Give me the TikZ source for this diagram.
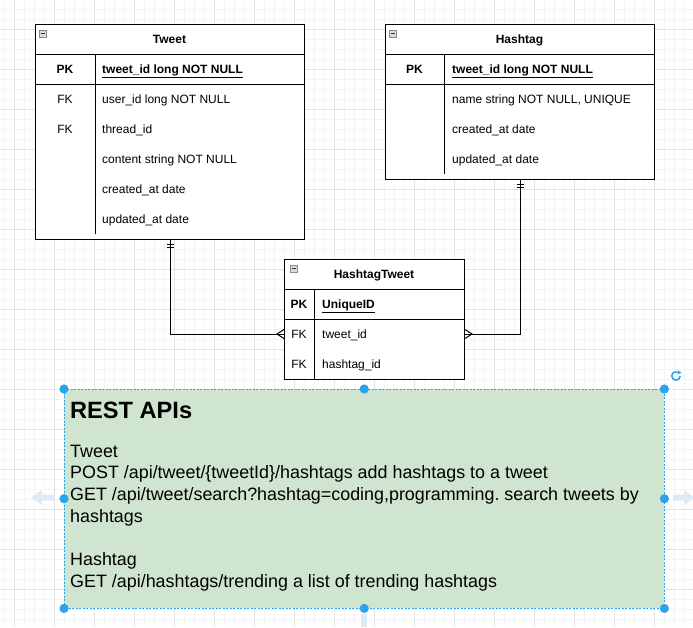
\documentclass[tikz,border=0pt]{standalone}
\usepackage{fontspec}
\setmainfont{Liberation Sans}
\usetikzlibrary{arrows.meta}
\frenchspacing
\definecolor{gridmin}{HTML}{F4F4F4}
\definecolor{gridmaj}{HTML}{E2E2E2}
\definecolor{notefill}{HTML}{D0E5CF}
\definecolor{selblue}{HTML}{29A3EE}
\definecolor{hoverblue}{HTML}{DCEBF8}
\definecolor{icongray}{HTML}{DADADA}
\definecolor{iconedge}{HTML}{8A8A8A}
\begin{document}
\begin{tikzpicture}[x=1pt,y=-1pt,
  tbl/.style={draw=black,fill=white,line width=1pt,anchor=north west,inner sep=0pt},
  ttl/.style={anchor=base,inner sep=0pt,font=\fontsize{12}{14}\selectfont\bfseries},
  keytxt/.style={anchor=base,inner sep=0pt,font=\fontsize{12}{14}\selectfont},
  pktxt/.style={anchor=base,inner sep=0pt,font=\fontsize{12}{14}\selectfont\bfseries},
  rowtxt/.style={anchor=base west,inner sep=0pt,font=\fontsize{12}{14}\selectfont},
  pkrow/.style={anchor=base west,inner sep=0pt,font=\fontsize{12}{14}\selectfont\bfseries},
  sep/.style={draw=black,line width=1pt},
  conn/.style={draw=black,line width=1pt},
  minusicon/.style={draw=iconedge,fill=icongray,line width=0.6pt,minimum width=7.5pt,minimum height=7pt,inner sep=0pt},
  apitxt/.style={anchor=base west,inner sep=0pt,font=\fontsize{17.9}{21}\selectfont\frenchspacing},
  handle/.style={fill=selblue},
]
\useasboundingbox (0,0) rectangle (693,627);
\fill[white] (0,0) rectangle (693,627);
% grid
\foreach \gx in {4,14,...,694} \draw[gridmin,line width=1pt] (\gx,0) -- (\gx,627);
\foreach \gy in {9,19,...,629} \draw[gridmin,line width=1pt] (0,\gy) -- (693,\gy);
\foreach \gx in {14,54,...,694} \draw[gridmaj,line width=0.9pt] (\gx,0) -- (\gx,627);
\foreach \gy in {29,69,...,629} \draw[gridmaj,line width=0.9pt] (0,\gy) -- (693,\gy);

% ---------- Tweet table ----------
\node[tbl,minimum width=269pt,minimum height=215pt] (tweet) at (35,24) {};
\draw[sep] (35,54) -- (304,54);
\draw[sep] (35,84) -- (304,84);
\draw[sep] (95,54) -- (95,234);
\node[minusicon] (twmin) at (43,33.5) {};
\draw[black!80,line width=0.8pt] ([xshift=-2.3pt]twmin.center) -- ([xshift=2.3pt]twmin.center);
\node[ttl] (twttl) at (169.5,43.3) {Tweet};
\node[pktxt] (twk0) at (65,73.3) {PK};
\node[pkrow] (twr0) at (102,73.3) {\underline{tweet\_id long NOT NULL}};
\node[keytxt] (twk1) at (65,103.3) {FK};
\node[rowtxt] (twr1) at (102,103.3) {user\_id long NOT NULL};
\node[keytxt] (twk2) at (65,133.3) {FK};
\node[rowtxt] (twr2) at (102,133.3) {thread\_id};
\node[rowtxt] (twr3) at (102,163.3) {content string NOT NULL};
\node[rowtxt] (twr4) at (102,193.3) {created\_at date};
\node[rowtxt] (twr5) at (102,223.3) {updated\_at date};

% ---------- Hashtag table ----------
\node[tbl,minimum width=269pt,minimum height=155pt] (hashtag) at (385,24) {};
\draw[sep] (385,54) -- (654,54);
\draw[sep] (385,84) -- (654,84);
\draw[sep] (444,54) -- (444,174);
\node[minusicon] (hsmin) at (393,33.5) {};
\draw[black!80,line width=0.8pt] ([xshift=-2.3pt]hsmin.center) -- ([xshift=2.3pt]hsmin.center);
\node[ttl] (hsttl) at (519.5,43.3) {Hashtag};
\node[pktxt] (hsk0) at (414.5,73.3) {PK};
\node[pkrow] (hsr0) at (452,73.3) {\underline{tweet\_id long NOT NULL}};
\node[rowtxt] (hsr1) at (452,103.3) {name string NOT NULL, UNIQUE};
\node[rowtxt] (hsr2) at (452,133.3) {created\_at date};
\node[rowtxt] (hsr3) at (452,163.3) {updated\_at date};

% ---------- HashtagTweet table ----------
\node[tbl,minimum width=180pt,minimum height=120pt] (ht) at (284,259) {};
\draw[sep] (284,289) -- (464,289);
\draw[sep] (284,319) -- (464,319);
\draw[sep] (314,289) -- (314,379);
\node[minusicon] (htmin) at (294,268.5) {};
\draw[black!80,line width=0.8pt] ([xshift=-2.3pt]htmin.center) -- ([xshift=2.3pt]htmin.center);
\node[ttl] (htttl) at (374,278.3) {HashtagTweet};
\node[pktxt] (htk0) at (299,308.3) {PK};
\node[pkrow] (htr0) at (322,308.3) {\underline{UniqueID}};
\node[keytxt] (htk1) at (299,338.3) {FK};
\node[rowtxt] (htr1) at (322,338.3) {tweet\_id};
\node[keytxt] (htk2) at (299,368.3) {FK};
\node[rowtxt] (htr2) at (322,368.3) {hashtag\_id};
\coordinate (htrow1) at (374,334);

% ---------- connectors ----------
\draw[conn] (tweet.south) |- (ht.west |- htrow1);
\draw[conn] (hashtag.south) |- (ht.east |- htrow1);
% one-and-only-one marks
\draw[conn] ([shift={(-3.5,4)}]tweet.south) -- ++(7,0);
\draw[conn] ([shift={(-3.5,7.5)}]tweet.south) -- ++(7,0);
\draw[conn] ([shift={(-3.5,4)}]hashtag.south) -- ++(7,0);
\draw[conn] ([shift={(-3.5,7.5)}]hashtag.south) -- ++(7,0);
% crow's feet
\draw[conn] ([shift={(0,-4.5)}]ht.west |- htrow1) -- ([shift={(-7,0)}]ht.west |- htrow1) -- ([shift={(0,4.5)}]ht.west |- htrow1);
\draw[conn] ([shift={(0,-4.5)}]ht.east |- htrow1) -- ([shift={(7,0)}]ht.east |- htrow1) -- ([shift={(0,4.5)}]ht.east |- htrow1);

% ---------- REST API note ----------
% hover arrows
\fill[hoverblue] (55,494.5) -- (42,494.5) -- (42,490) -- (31,497.5) -- (42,505) -- (42,500.5) -- (55,500.5) -- cycle;
\fill[hoverblue] (673,494.5) -- (684,494.5) -- (684,490) -- (695,497.5) -- (684,505) -- (684,500.5) -- (673,500.5) -- cycle;
\fill[hoverblue] (361,614) rectangle (367,627);
\node[fill=notefill,draw=none,anchor=north west,minimum width=600pt,minimum height=219pt,inner sep=0pt] (api) at (64,389) {};
\draw[selblue,line width=0.7pt,dash pattern=on 2pt off 1.5pt] (api.north west) rectangle (api.south east);
\node[anchor=base west,inner sep=0pt,font=\fontsize{23.6}{28}\selectfont\bfseries] (apittl) at (70,418.5) {REST APIs};
\node[apitxt] (api1) at (70,457) {Tweet};
\node[apitxt] (api2) at (70,478.7) {POST /api/tweet/\{tweetId\}/hashtags add hashtags to a tweet};
\node[apitxt] (api3) at (70,500.4) {GET /api/tweet/search?hashtag=coding,programming. search tweets by};
\node[apitxt] (api4) at (70,522.1) {hashtags};
\node[apitxt] (api5) at (70,565.5) {Hashtag};
\node[apitxt] (api6) at (70,587.2) {GET /api/hashtags/trending a list of trending hashtags};
% selection handles
\foreach \h in {north west,north,north east,west,east,south west,south,south east}
  \fill[handle] (api.\h) circle (4.6pt);
% rotate handle
\coordinate (rot) at (676,376);
\draw[selblue,line width=1.5pt] ([shift={(4.2,0)}]rot) arc[start angle=0,end angle=-290,radius=4.2pt];
\fill[selblue] ([shift={(1.5,-5.8)}]rot) -- ([shift={(5.5,-3.5)}]rot) -- ([shift={(1.8,-1.5)}]rot) -- cycle;
\end{tikzpicture}
\end{document}
